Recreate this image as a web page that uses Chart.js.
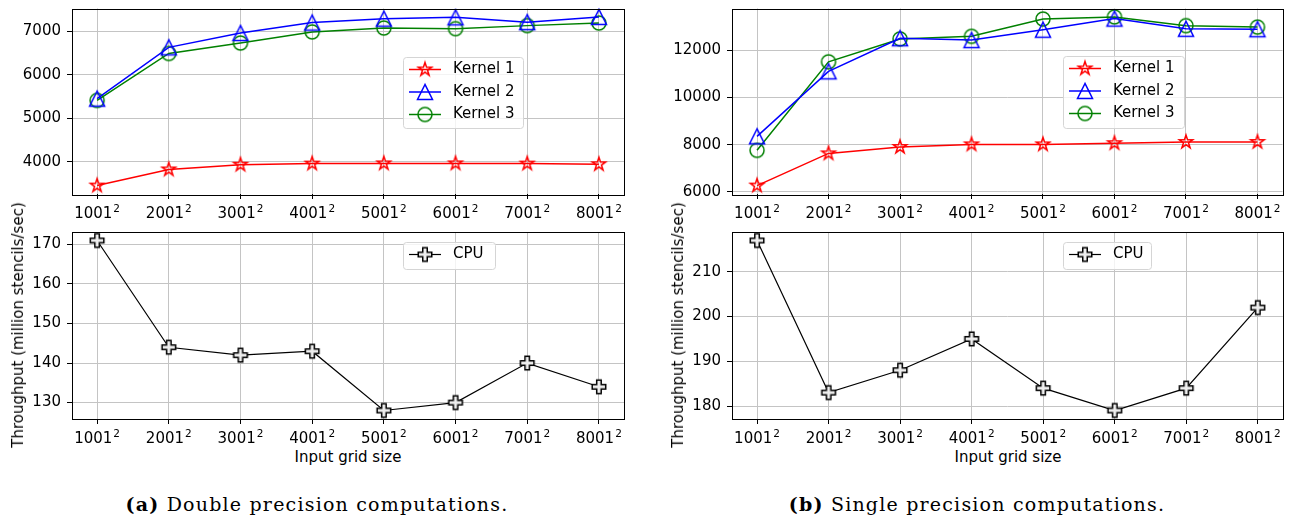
<!DOCTYPE html>
<html lang="en">
<head>
  <meta charset="UTF-8" />
  <title>Stencil throughput</title>
  <script src="https://cdn.jsdelivr.net/npm/chart.js"></script>
  <style>
    body { margin: 0; background: #fff; width: 1291px; height: 520px; position: relative; overflow: hidden; font-family: "DejaVu Sans", sans-serif; color: #000; }
    canvas { position: absolute; }
    .ylab { position: absolute; font-size: 15px; transform: translate(-50%, -50%) rotate(-90deg); white-space: nowrap; }
    .xlab { position: absolute; font-size: 15px; transform: translateX(-50%); white-space: nowrap; }
    .caption { position: absolute; font-family: "DejaVu Serif", serif; font-size: 19px; letter-spacing: 1.2px; transform: translateX(-50%); white-space: nowrap; }
  </style>
</head>
<body>
  <canvas id="dblTop" width="645" height="222" style="left:0;top:0"></canvas>
  <canvas id="dblCpu" width="645" height="224" style="left:0;top:222px"></canvas>
  <canvas id="sglTop" width="643" height="222" style="left:648px;top:0"></canvas>
  <canvas id="sglCpu" width="643" height="224" style="left:648px;top:222px"></canvas>

  <div class="ylab" style="left:18px;top:325px">Throughput (million stencils/sec)</div>
  <div class="ylab" style="left:678px;top:325px">Throughput (million stencils/sec)</div>
  <div class="xlab" style="left:348px;top:448px">Input grid size</div>
  <div class="xlab" style="left:1008px;top:448px">Input grid size</div>
  <div class="caption" style="left:317px;top:493px"><b>(a)</b> Double precision computations.</div>
  <div class="caption" style="left:977px;top:493px"><b>(b)</b> Single precision computations.</div>

  <script>
    // grid sizes on the x axis
    const xLabels = ['1001²', '2001²', '3001²', '4001²', '5001²', '6001²', '7001²', '8001²'];

    // double precision (million stencils/sec)
    const dblKernel1 = [3450, 3820, 3930, 3955, 3960, 3960, 3955, 3940];
    const dblKernel2 = [5450, 6630, 6960, 7200, 7290, 7320, 7210, 7330];
    const dblKernel3 = [5410, 6490, 6730, 6985, 7075, 7060, 7130, 7190];
    const dblCpuVals = [171, 144, 142, 143, 128, 130, 140, 134];

    // single precision
    const sglKernel1 = [6270, 7630, 7900, 8010, 8010, 8060, 8110, 8110];
    const sglKernel2 = [8350, 11100, 12500, 12420, 12860, 13330, 12900, 12880];
    const sglKernel3 = [7760, 11500, 12470, 12580, 13310, 13400, 13030, 12970];
    const sglCpuVals = [217, 183, 188, 195, 184, 179, 184, 202];

    // y tick values
    const dblTopTicks = [4000, 5000, 6000, 7000];
    const dblCpuTicks = [130, 140, 150, 160, 170];
    const sglTopTicks = [6000, 8000, 10000, 12000];
    const sglCpuTicks = [180, 190, 200, 210];

    const FONT = { family: 'DejaVu Sans', size: 15 };

    // marker images, drawn like matplotlib's unfilled markers
    function marker(kind, color, fill) {
      const c = document.createElement('canvas');
      c.width = 22; c.height = 22;
      const g = c.getContext('2d');
      g.translate(11, 11);
      g.beginPath();
      if (kind === 'star') {
        const R = 7, r = R * 0.381966;
        for (let i = 0; i < 10; i++) {
          const a = -Math.PI / 2 + i * Math.PI / 5;
          const rad = i % 2 ? r : R;
          g.lineTo(rad * Math.cos(a), rad * Math.sin(a));
        }
      } else if (kind === 'tri') {
        const s = 7.5;
        g.moveTo(0, -s); g.lineTo(-s, s); g.lineTo(s, s);
      } else if (kind === 'circle') {
        g.arc(0, 0, 7, 0, Math.PI * 2);
      } else if (kind === 'plus') {
        const a = 6.75, b = a / 3;
        const pts = [[-b,-a],[b,-a],[b,-b],[a,-b],[a,b],[b,b],[b,a],[-b,a],[-b,b],[-a,b],[-a,-b],[-b,-b]];
        pts.forEach(p => g.lineTo(p[0], p[1]));
      }
      g.closePath();
      if (fill) { g.fillStyle = fill; g.fill(); }
      g.strokeStyle = color; g.lineWidth = 1.5; g.lineJoin = 'miter';
      g.stroke();
      return c;
    }

    // top and right spines
    const framePlugin = {
      id: 'frame',
      afterDatasetsDraw(chart) {
        const a = chart.chartArea, g = chart.ctx;
        g.save();
        g.strokeStyle = '#000'; g.lineWidth = 1;
        g.strokeRect(Math.round(a.left) + 0.5, Math.round(a.top) + 0.5, Math.round(a.right - a.left), Math.round(a.bottom - a.top));
        g.restore();
      }
    };

    // x tick labels with a raised exponent, like mathtext
    const supLabels = {
      id: 'supLabels',
      afterDraw(chart) {
        const xs = chart.scales.x, g = chart.ctx;
        const base = xs.top + 23.5;
        g.save();
        g.fillStyle = '#000';
        g.textBaseline = 'alphabetic';
        xs.ticks.forEach(t => {
          const txt = xLabels[t.value];
          const main = txt.replace('²', ''), sup = '2';
          g.font = FONT.size + 'px ' + FONT.family;
          const w1 = g.measureText(main).width;
          g.font = '10.5px ' + FONT.family;
          const w2 = g.measureText(sup).width;
          const x0 = xs.getPixelForValue(t.value) - (w1 + w2 + 1) / 2;
          g.font = FONT.size + 'px ' + FONT.family;
          g.fillText(main, x0, base);
          g.font = '10.5px ' + FONT.family;
          g.fillText(sup, x0 + w1 + 1, base - 5.5);
        });
        g.restore();
      }
    };

    // matplotlib style legend box
    const boxLegend = {
      id: 'boxLegend',
      afterDraw(chart, args, opts) {
        const g = chart.ctx;
        const { left, top, width, height } = opts;
        g.save();
        g.beginPath();
        g.roundRect(left + 0.5, top + 0.5, width, height, 3);
        g.fillStyle = 'rgba(255,255,255,0.8)';
        g.fill();
        g.strokeStyle = '#d5d5d5'; g.lineWidth = 1;
        g.stroke();
        chart.data.datasets.forEach((ds, i) => {
          const y = top + 12.5 + i * 22.5;
          g.beginPath();
          g.moveTo(left + 6, y); g.lineTo(left + 38, y);
          g.strokeStyle = ds.borderColor; g.lineWidth = ds.borderWidth;
          g.stroke();
          g.drawImage(ds.pointStyle, left + 22 - 11, y - 11);
          g.fillStyle = '#000';
          g.font = FONT.size + 'px ' + FONT.family;
          g.textBaseline = 'middle';
          g.fillText(ds.label, left + 50, y);
        });
        g.restore();
      }
    };

    function buildChart(id, series, yTicks, geo, legendBox) {
      const all = series.flatMap(s => s.data);
      const lo = Math.min(...all), hi = Math.max(...all), m = (hi - lo) * 0.05;
      return new Chart(document.getElementById(id), {
        type: 'line',
        data: {
          datasets: series.map(s => ({
            label: s.label,
            data: s.data.map((v, i) => ({ x: i, y: v })),
            borderColor: s.color,
            borderWidth: s.width,
            backgroundColor: 'transparent',
            pointStyle: s.marker,
            pointRadius: 7,
            tension: 0,
            clip: false
          }))
        },
        options: {
          responsive: false,
          animation: false,
          layout: { padding: { left: 0, top: geo.top, right: geo.right, bottom: 0 } },
          scales: {
            x: {
              type: 'linear', min: -0.35, max: 7.35,
              afterBuildTicks: s => { s.ticks = xLabels.map((_, i) => ({ value: i })); },
              afterFit: s => { s.height = geo.xh; s.paddingLeft = 0; s.paddingRight = 0; },
              ticks: { display: false },
              grid: { color: '#c4c4c4', lineWidth: 1, tickLength: 5, tickColor: '#000' },
              border: { display: false }
            },
            y: {
              min: lo - m, max: hi + m,
              afterBuildTicks: s => { s.ticks = yTicks.map(v => ({ value: v })); },
              afterFit: s => { s.width = geo.yw; s.paddingTop = 0; s.paddingBottom = 0; },
              ticks: { callback: v => String(v), font: FONT, color: '#000', padding: 6 },
              grid: { color: '#c4c4c4', lineWidth: 1, tickLength: 5, tickColor: '#000' },
              border: { display: false }
            }
          },
          plugins: {
            legend: { display: false },
            tooltip: { enabled: false },
            boxLegend: legendBox
          }
        },
        plugins: [framePlugin, supLabels, boxLegend]
      });
    }

    const kernels = (k1, k2, k3) => [
      { label: 'Kernel 1', data: k1, color: '#ff0000', width: 1.5, marker: marker('star', '#ff0000') },
      { label: 'Kernel 2', data: k2, color: '#0000ff', width: 1.5, marker: marker('tri', '#0000ff') },
      { label: 'Kernel 3', data: k3, color: '#008000', width: 1.5, marker: marker('circle', '#008000') }
    ];
    const cpu = vals => [
      { label: 'CPU', data: vals, color: '#000000', width: 1.2, marker: marker('plus', '#000000', '#eeeeee') }
    ];

    buildChart('dblTop', kernels(dblKernel1, dblKernel2, dblKernel3), dblTopTicks,
      { top: 7, right: 21, yw: 72, xh: 28 }, { left: 403, top: 57, width: 120, height: 71 });
    buildChart('dblCpu', cpu(dblCpuVals), dblCpuTicks,
      { top: 10, right: 21, yw: 72, xh: 27 }, { left: 403, top: 20, width: 92, height: 27 });
    buildChart('sglTop', kernels(sglKernel1, sglKernel2, sglKernel3), sglTopTicks,
      { top: 7, right: 6, yw: 84, xh: 28 }, { left: 415, top: 56, width: 121, height: 72 });
    buildChart('sglCpu', cpu(sglCpuVals), sglCpuTicks,
      { top: 10, right: 6, yw: 84, xh: 27 }, { left: 415, top: 20, width: 88, height: 27 });
  </script>
</body>
</html>
